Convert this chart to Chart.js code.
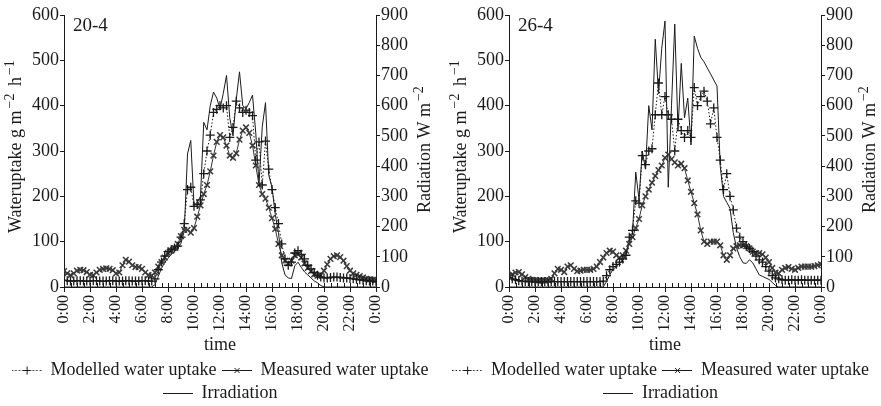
<!DOCTYPE html>
<html>
<head>
<meta charset="utf-8">
<script src="https://cdn.jsdelivr.net/npm/chart.js@4.4.0/dist/chart.umd.min.js"></script>
<style>
  html, body { margin: 0; padding: 0; background: #fff; }
  #wrap { position: relative; width: 881px; height: 406px; }
  canvas { position: absolute; top: 0; }
</style>
</head>
<body>
<div id="wrap">
  <canvas id="day1" width="440" height="406" style="left:0"></canvas>
  <canvas id="day2" width="441" height="406" style="left:440px"></canvas>
</div>
<script>
const INK = '#1a1a1a';
const SERIF = "'Liberation Serif', 'Times New Roman', serif";

// x tick labels, one every two hours
const timeLabels = ['0:00', '2:00', '4:00', '6:00', '8:00', '10:00', '12:00',
                    '14:00', '16:00', '18:00', '20:00', '22:00', '0:00'];

// readings every 15 minutes from 0:00 to 0:00 (97 values, 8 per row = 2 h)
// water uptake in g m-2 h-1, irradiation in W m-2

// 20-4
const modelled20 = [
  15, 14, 13, 13, 14, 14, 13, 13,
  13, 14, 14, 13, 13, 13, 14, 14,
  13, 13, 13, 14, 14, 13, 13, 13,
  14, 14, 13, 13, 18, 38, 55, 68,
  78, 82, 86, 90, 110, 140, 215, 220,
  178, 182, 192, 250, 300, 335, 385, 392,
  400, 395, 400, 330, 352, 410, 395, 385,
  390, 385, 378, 280, 320, 225, 322, 260,
  215, 175, 140, 95, 62, 48, 55, 75,
  80, 72, 62, 48, 40, 32, 26, 22,
  20, 20, 21, 22, 22, 21, 20, 20,
  19, 18, 17, 16, 15, 14, 13, 13,
  12
];
const measured20 = [
  35, 30, 26, 30, 36, 38, 37, 33,
  27, 26, 32, 38, 40, 41, 40, 37,
  30, 32, 48, 60, 56, 48, 44, 44,
  40, 32, 26, 25, 32, 45, 55, 65,
  75, 80, 86, 95, 112, 126, 126, 120,
  130, 155, 180, 205, 225, 255, 290, 320,
  335, 330, 312, 290, 285, 295, 325, 345,
  352, 340, 312, 268, 225, 205, 195, 175,
  152, 128, 95, 70, 58, 52, 58, 70,
  72, 65, 52, 42, 35, 28, 25, 26,
  36, 50, 62, 68, 70, 66, 58, 46,
  36, 30, 27, 24, 21, 18, 17, 16,
  15
];
const irradiation20 = [
  0, 0, 0, 0, 0, 0, 0, 0,
  0, 0, 0, 0, 0, 0, 0, 0,
  0, 0, 0, 0, 0, 0, 0, 0,
  0, 0, 0, 0, 8, 35, 62, 82,
  95, 108, 118, 128, 145, 185, 440, 485,
  270, 280, 300, 545, 520, 600, 645, 625,
  590, 640, 700, 560, 500, 620, 712, 600,
  590, 610, 635, 510, 340, 530, 610, 370,
  330, 240, 180, 80, 40, 30, 28, 70,
  82, 65, 50, 40, 30, 20, 14, 5,
  0, 0, 0, 0, 0, 0, 0, 0,
  0, 0, 0, 0, 0, 0, 0, 0,
  0
];

// 26-4
const modelled26 = [
  20, 18, 16, 14, 13, 12, 12, 12,
  12, 12, 12, 12, 12, 12, 12, 12,
  12, 12, 12, 12, 12, 12, 12, 12,
  12, 12, 12, 12, 12, 13, 25, 38,
  45, 50, 55, 62, 70, 110, 125, 190,
  185, 290, 270, 300, 305, 380, 450, 380,
  420, 380, 370, 300, 370, 345, 330, 345,
  330, 440, 400, 420, 432, 410, 360, 395,
  330, 280, 215, 250, 200, 170, 130, 110,
  100, 90, 85, 78, 68, 60, 55, 45,
  35, 25, 20, 18, 16, 15, 15, 16,
  15, 15, 16, 15, 15, 15, 15, 15,
  15
];
const measured26 = [
  25, 28, 32, 33, 28, 22, 18, 16,
  15, 14, 14, 14, 15, 18, 30, 40,
  38, 33, 45, 48, 40, 35, 36, 38,
  38, 38, 40, 45, 55, 65, 75, 80,
  78, 70, 65, 70, 80, 95, 110, 130,
  150, 180, 200, 215, 230, 245, 258, 268,
  285, 292, 282, 275, 268, 272, 262, 235,
  210, 185, 160, 125, 100, 95, 100, 100,
  100, 92, 70, 60, 70, 85, 90, 92,
  92, 90, 85, 78, 75, 75, 72, 65,
  55, 42, 32, 30, 38, 42, 44, 40,
  38, 42, 45, 45, 45, 45, 46, 48,
  50
];
const irradiation26 = [
  0, 0, 0, 0, 0, 0, 0, 0,
  0, 0, 0, 0, 0, 0, 0, 0,
  0, 0, 0, 0, 0, 0, 0, 0,
  0, 0, 0, 0, 0, 0, 18, 40,
  58, 68, 78, 88, 105, 150, 180, 380,
  290, 450, 390, 600, 520, 820, 640, 790,
  880, 330, 600, 870, 520, 740, 560, 625,
  470, 830, 790, 760, 745, 725, 705, 685,
  665, 400, 300, 280, 260, 180, 130, 100,
  80, 78, 90, 80, 60, 40, 35, 30,
  25, 15, 5, 0, 0, 0, 0, 0,
  0, 0, 0, 0, 0, 0, 0, 0,
  0
];

// hour of day for each reading
const hours = modelled20.map((_, i) => i / 4);

// little line+marker pictures for the legend
function legendIcon(kind) {
  const c = document.createElement('canvas');
  c.width = 30; c.height = 12;
  const g = c.getContext('2d');
  g.strokeStyle = INK;
  g.lineWidth = 1;
  if (kind === 'modelled') g.setLineDash([1.5, 2]);
  g.beginPath(); g.moveTo(0, 6.5); g.lineTo(30, 6.5); g.stroke();
  g.setLineDash([]);
  g.beginPath();
  if (kind === 'modelled') {
    g.moveTo(15.5, 2.5); g.lineTo(15.5, 10.5);
    g.moveTo(11.5, 6.5); g.lineTo(19.5, 6.5);
  } else if (kind === 'measured') {
    g.moveTo(13, 4); g.lineTo(18, 9);
    g.moveTo(18, 4); g.lineTo(13, 9);
  }
  g.stroke();
  return c;
}
const legendIcons = [legendIcon('modelled'), legendIcon('measured'), legendIcon('irradiation')];

// rotated axis title with superscript parts
function drawTitle(ctx, x, y, parts) {
  ctx.save();
  ctx.translate(x, y);
  ctx.rotate(-Math.PI / 2);
  ctx.textAlign = 'left';
  ctx.textBaseline = 'middle';
  let pos = 0;
  parts.forEach(([text, sup]) => {
    ctx.font = (sup ? '14px ' : '18px ') + SERIF;
    if (sup) pos += 2;
    ctx.fillText(text, pos, sup ? -6 : 0);
    pos += ctx.measureText(text).width + (sup ? 3 : 0);
  });
  ctx.restore();
}

const extras = {
  id: 'extras',
  afterDraw(chart, args, opts) {
    const { ctx, chartArea: a } = chart;
    const xs = chart.scales.x;
    ctx.save();
    ctx.strokeStyle = INK;
    ctx.fillStyle = INK;
    ctx.lineWidth = 1;
    // half-hour ticks pointing into the plot
    for (let h = 0.5; h < 24; h += 0.5) {
      const px = Math.round(xs.getPixelForValue(h)) + 0.5;
      ctx.beginPath();
      ctx.moveTo(px, a.bottom);
      ctx.lineTo(px, a.bottom - 4);
      ctx.stroke();
    }
    ctx.font = '19px ' + SERIF;
    ctx.textAlign = 'left';
    ctx.textBaseline = 'middle';
    ctx.fillText(opts.day, a.left + 9, a.top + 11);
    drawTitle(ctx, a.left - 48, a.bottom - 54,
      [['Wateruptake g m', false], ['\u22122', true], [' h', false], ['\u22121', true]]);
    drawTitle(ctx, a.right + 49, a.bottom - 74,
      [['Radiation W m', false], ['\u22122', true]]);
    ctx.restore();
  }
};

function makeChart(id, day, modelled, measured, irradiation, leftW, rightW) {
  const tickFont = { family: SERIF, size: 18 };
  return new Chart(document.getElementById(id), {
    type: 'line',
    data: {
      labels: hours,
      datasets: [
        {
          label: 'Modelled water uptake',
          data: modelled,
          yAxisID: 'y',
          borderColor: INK,
          borderWidth: 1,
          borderDash: [1.5, 2],
          pointStyle: 'cross',
          pointRadius: 4.5,
          pointBorderWidth: 1.3,
          pointBorderColor: INK,
          pointBackgroundColor: INK
        },
        {
          label: 'Measured water uptake',
          data: measured,
          yAxisID: 'y',
          borderColor: '#333',
          borderWidth: 1,
          pointStyle: 'crossRot',
          pointRadius: 4,
          pointBorderWidth: 1.5,
          pointBorderColor: '#3a3a3a',
          pointBackgroundColor: '#3a3a3a'
        },
        {
          label: 'Irradiation',
          data: irradiation,
          yAxisID: 'y2',
          borderColor: INK,
          borderWidth: 1,
          pointRadius: 0
        }
      ]
    },
    options: {
      responsive: false,
      devicePixelRatio: 1,
      animation: false,
      layout: { padding: { top: 15, bottom: -6, left: 0, right: 0 } },
      scales: {
        x: {
          type: 'linear',
          min: 0,
          max: 24,
          border: { color: INK, width: 1 },
          grid: { drawOnChartArea: false, tickLength: 5, color: INK },
          ticks: {
            stepSize: 2,
            autoSkip: false,
            minRotation: 90,
            maxRotation: 90,
            padding: 3,
            color: INK,
            font: { family: SERIF, size: 16 },
            callback: (v) => timeLabels[v / 2]
          },
          title: {
            display: true,
            text: 'time',
            color: INK,
            font: { family: SERIF, size: 18 },
            padding: { top: 0, bottom: 0 }
          },
          afterFit: (s) => { s.height = 69; }
        },
        y: {
          position: 'left',
          min: 0,
          max: 600,
          border: { color: INK, width: 1 },
          grid: { drawOnChartArea: false, tickLength: 4, color: INK },
          ticks: { stepSize: 100, padding: 1, color: INK, font: tickFont },
          afterFit: (s) => { s.width = leftW; }
        },
        y2: {
          position: 'right',
          min: 0,
          max: 900,
          border: { color: INK, width: 1 },
          grid: { drawOnChartArea: false, tickLength: 4, color: INK },
          ticks: { stepSize: 100, padding: 1, color: INK, font: tickFont },
          afterFit: (s) => { s.width = rightW; }
        }
      },
      plugins: {
        tooltip: { enabled: false },
        extras: { day: day },
        legend: {
          position: 'bottom',
          labels: {
            usePointStyle: true,
            pointStyleWidth: 30,
            padding: 5,
            color: INK,
            font: { family: SERIF, size: 18 },
            generateLabels(chart) {
              const items = Chart.defaults.plugins.legend.labels.generateLabels(chart);
              items.forEach((it, i) => { it.pointStyle = legendIcons[i]; });
              return items;
            }
          }
        }
      }
    },
    plugins: [extras]
  });
}

makeChart('day1', '20-4', modelled20, measured20, irradiation20, 64, 64);
makeChart('day2', '26-4', modelled26, measured26, irradiation26, 69, 60);
</script>
</body>
</html>
